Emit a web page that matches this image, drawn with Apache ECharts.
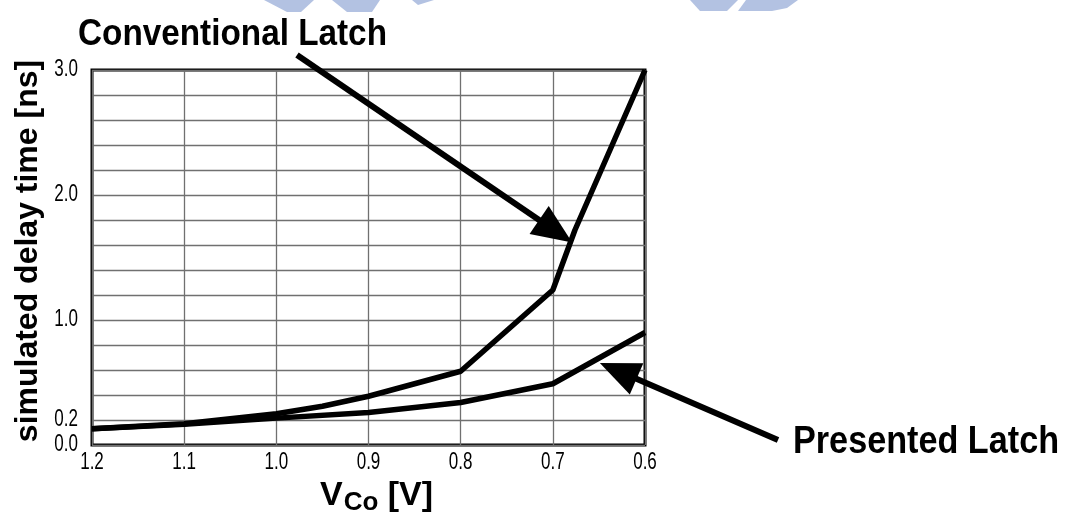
<!DOCTYPE html>
<html>
<head>
<meta charset="utf-8">
<script src="https://cdn.jsdelivr.net/npm/echarts@6/dist/echarts.min.js"></script>
<style>
  html, body { margin: 0; padding: 0; background: #fff; }
  #chart { width: 1067px; height: 513px; }
</style>
</head>
<body>
<div id="chart"></div>
<script>
// Simulated delay time versus supply voltage V_Co for two latch designs
const convVoltage = [1.2, 1.1, 1.0, 0.95, 0.9, 0.8, 0.7, 0.676, 0.6];
const convDelay   = [0.13, 0.17, 0.25, 0.31, 0.39, 0.59, 1.24, 1.72, 3.0];
const presVoltage = [1.2, 1.1, 1.0, 0.9, 0.8, 0.7, 0.6];
const presDelay   = [0.13, 0.165, 0.215, 0.26, 0.34, 0.49, 0.9];

const xTickLabels = ['1.2', '1.1', '1.0', '0.9', '0.8', '0.7', '0.6'];
const yTickLabels = ['0.0', '0.2', '1.0', '2.0', '3.0'];

const seriesNames = ['Conventional Latch', 'Presented Latch'];
const yTitle = 'simulated delay time [ns]';

const sans = '"Liberation Sans", Arial, sans-serif';

const chart = echarts.init(document.getElementById('chart'));

chart.setOption({
  backgroundColor: '#fff',
  animation: false,
  grid: {
    left: 92, top: 70, width: 553, height: 375,
    containLabel: false, outerBoundsMode: 'none',
    show: true, borderColor: '#000', borderWidth: 3, backgroundColor: 'transparent'
  },
  xAxis: {
    type: 'value', min: 0.6, max: 1.2, interval: 0.1, inverse: true,
    axisLine: { show: false }, axisTick: { show: false },
    splitLine: { show: true, lineStyle: { color: '#707070', width: 1.3 } },
    // tick labels are drawn below as condensed text
    axisLabel: { show: false },
    name: '{v|V}{s|Co}{w| [V]}',
    nameLocation: 'middle', nameGap: 31,
    nameTextStyle: {
      rich: {
        v: { fontFamily: sans, fontWeight: 'bold', fontSize: 34, color: '#000', padding: [0, 0, 0, 16] },
        s: { fontFamily: sans, fontWeight: 'bold', fontSize: 26, color: '#000', padding: [14, 0, 0, 1] },
        w: { fontFamily: sans, fontWeight: 'bold', fontSize: 34, color: '#000' }
      }
    }
  },
  yAxis: {
    type: 'value', min: 0, max: 3, interval: 0.2,
    axisLine: { show: false }, axisTick: { show: false },
    splitLine: { show: true, lineStyle: { color: '#707070', width: 1.3 } },
    axisLabel: { show: false }
  },
  series: [
    {
      name: seriesNames[0], type: 'line', symbol: 'none', z: 5,
      lineStyle: { color: '#000', width: 5.5 },
      data: convVoltage.map((v, i) => [v, convDelay[i]])
    },
    {
      name: seriesNames[1], type: 'line', symbol: 'none', z: 5,
      lineStyle: { color: '#000', width: 5.5 },
      data: presVoltage.map((v, i) => [v, presDelay[i]])
    }
  ]
});

// Condensed tick labels placed through the axis scales
const tickFont = { fontFamily: sans, fontSize: 23, fill: '#000' };
const tickTexts = [];
xTickLabels.forEach(t => {
  const p = chart.convertToPixel({ gridIndex: 0 }, [parseFloat(t), 0]);
  tickTexts.push({ type: 'text', z: 20, x: p[0], y: p[1] + 18, scaleX: 0.74,
    style: Object.assign({ text: t, align: 'center', verticalAlign: 'middle' }, tickFont) });
});
yTickLabels.forEach(t => {
  const p = chart.convertToPixel({ gridIndex: 0 }, [1.2, parseFloat(t)]);
  tickTexts.push({ type: 'text', z: 20, x: p[0] - 14, y: p[1], scaleX: 0.74,
    style: Object.assign({ text: t, align: 'right', verticalAlign: 'middle' }, tickFont) });
});

// Callout arrows pointing from each label to its curve
function arrow(from, tip, headLen, headHalf) {
  const dx = tip[0] - from[0], dy = tip[1] - from[1];
  const len = Math.hypot(dx, dy);
  const ux = dx / len, uy = dy / len;
  const bx = tip[0] - ux * headLen, by = tip[1] - uy * headLen;
  const px = -uy * headHalf, py = ux * headHalf;
  return [
    { type: 'line', z: 20, shape: { x1: from[0], y1: from[1], x2: bx + ux * 4, y2: by + uy * 4 },
      style: { stroke: '#000', lineWidth: 6 } },
    { type: 'polygon', z: 20, shape: { points: [tip, [bx + px, by + py], [bx - px, by - py]] },
      style: { fill: '#000' } }
  ];
}

const convTip = chart.convertToPixel({ gridIndex: 0 }, [0.679, 1.62]);
const presTip = chart.convertToPixel({ gridIndex: 0 }, [0.649, 0.656]);

const wm = '#b3c2e2';
chart.setOption({
  graphic: [
    // light logo fragments along the top edge
    { type: 'polygon', z: 0, shape: { points: [[264, 0], [314, 0], [301, 12], [287, 12]] }, style: { fill: wm } },
    { type: 'polygon', z: 0, shape: { points: [[332, 0], [380, 0], [372, 12], [347, 12]] }, style: { fill: wm } },
    { type: 'polygon', z: 0, shape: { points: [[412, 0], [434, 0], [418, 5]] }, style: { fill: wm } },
    { type: 'polygon', z: 0, shape: { points: [[690, 0], [738, 0], [727, 11], [700, 11]] }, style: { fill: wm } },
    { type: 'polygon', z: 0, shape: { points: [[746, 0], [798, 0], [787, 8], [772, 11], [738, 11]] }, style: { fill: wm } },
    { type: 'text', z: 20, x: 28, y: 251, rotation: Math.PI / 2,
      style: { text: yTitle, align: 'center', verticalAlign: 'middle',
               fontFamily: sans, fontWeight: 'bold', fontSize: 32, fill: '#000' } },
    { type: 'text', z: 20, x: 78, y: 16, scaleX: 0.9,
      style: { text: seriesNames[0], fontFamily: sans, fontWeight: 'bold', fontSize: 37, fill: '#000' } },
    { type: 'text', z: 20, x: 793, y: 424, scaleX: 0.9,
      style: { text: seriesNames[1], fontFamily: sans, fontWeight: 'bold', fontSize: 38, fill: '#000' } },
    ...tickTexts,
    ...arrow([297, 55], convTip, 40, 17),
    ...arrow([778, 440], presTip, 40, 17)
  ]
});
</script>
</body>
</html>
